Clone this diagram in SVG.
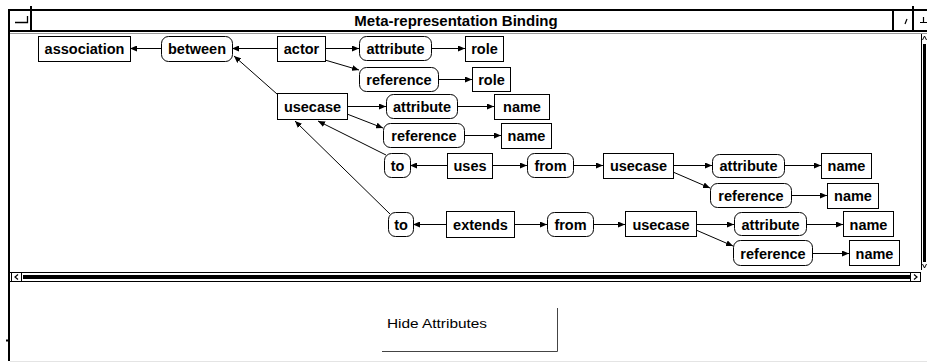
<svg xmlns="http://www.w3.org/2000/svg" width="927" height="363" viewBox="0 0 927 363">
  <style>
    .box { fill: #fff; stroke: #000; stroke-width: 1; }
    .lbl { font-family: "Liberation Sans", Arial, sans-serif; font-weight: bold; font-size: 14.5px; text-anchor: middle; fill: #000; }
    .title { font-family: "Liberation Sans", Arial, sans-serif; font-weight: bold; font-size: 15px; text-anchor: middle; fill: #000; }
    .btn { font-family: "Liberation Sans", Arial, sans-serif; font-size: 13px; fill: #000; }
    .edge { fill: none; stroke: #000; stroke-width: 1; marker-end: url(#arr); }
    .frame { fill: none; stroke: #000; }
  </style>
  <defs>
    <marker id="arr" markerUnits="userSpaceOnUse" markerWidth="8" markerHeight="6" refX="7" refY="3" orient="auto">
      <path d="M0,0 L7,3 L0,6 z" fill="#000"/>
    </marker>
  </defs>

  <rect width="927" height="363" fill="#fff"/>

  <!-- window frame and title bar -->
  <g id="window">
    <line class="frame" x1="8" y1="10" x2="927" y2="10" stroke-width="2"/>
    <line class="frame" x1="8" y1="31" x2="927" y2="31" stroke-width="2"/>
    <line x1="10" y1="33.5" x2="927" y2="33.5" stroke="#999" stroke-width="1"/>
    <line class="frame" x1="9" y1="9" x2="9" y2="361" stroke-width="2"/>
    <line class="frame" x1="31" y1="6" x2="31" y2="32" stroke-width="2"/>
    <path class="frame" d="M15,22.5 H27.5 V16" stroke-width="1.3"/>
    <line class="frame" x1="893" y1="10" x2="893" y2="32" stroke-width="2"/>
    <line x1="905" y1="24" x2="907" y2="19" stroke="#000" stroke-width="1.2"/>
    <line class="frame" x1="913" y1="6" x2="913" y2="32" stroke-width="2"/>
    <path class="frame" d="M920,22.5 H927 M923.5,17 V22" stroke-width="1.2"/>
    <text class="title" x="456" y="26">Meta-representation Binding</text>
    <!-- vertical scrollbar -->
    <line x1="921.5" y1="34" x2="921.5" y2="270" stroke="#000"/>
    <path d="M922.5,40 L924.5,36 L926.5,40" fill="none" stroke="#000"/>
    <rect x="923" y="44" width="3" height="218" fill="#000"/>
    <path d="M922.5,264 L924.5,268 L926.5,264" fill="none" stroke="#000"/>
    <!-- horizontal scrollbar -->
    <line x1="10" y1="272.5" x2="921" y2="272.5" stroke="#000"/>
    <line x1="10" y1="281.5" x2="921" y2="281.5" stroke="#000"/>
    <rect x="11.5" y="272.5" width="10" height="9" fill="none" stroke="#000"/>
    <path d="M18,274.5 L15,277 L18,279.5" fill="none" stroke="#000" stroke-width="1.2"/>
    <rect x="23" y="275" width="887" height="4" fill="#000"/>
    <rect x="910.5" y="272.5" width="10" height="9" fill="none" stroke="#000"/>
    <path d="M914,274.5 L917,277 L914,279.5" fill="none" stroke="#000" stroke-width="1.2"/>
    <line x1="6" y1="340.5" x2="9" y2="340.5" stroke="#000" stroke-width="2"/>
    <line x1="10" y1="361.5" x2="927" y2="361.5" stroke="#e4e4e4"/>
  </g>

  <!-- button -->
  <g id="hide-attributes">
    <path d="M382,351.5 H557.5 V308" fill="none" stroke="#444"/>
    <text class="btn" x="387" y="328" textLength="100" lengthAdjust="spacingAndGlyphs">Hide Attributes</text>
  </g>

  <!-- connectors -->
  <g id="connectors">
    <path class="edge" d="M277,48.5 L232,48.5"/>
    <path class="edge" d="M161,48.5 L130,48.5"/>
    <path class="edge" d="M277,94 L234,56"/>
    <path class="edge" d="M325,48.5 L359,48.5"/>
    <path class="edge" d="M431,48.5 L465,48.5"/>
    <path class="edge" d="M325,60 L359,70"/>
    <path class="edge" d="M438,79.5 L472,79.5"/>
    <path class="edge" d="M347,106.5 L386,106.5"/>
    <path class="edge" d="M457,106.5 L494,106.5"/>
    <path class="edge" d="M347,114 L383,128"/>
    <path class="edge" d="M464,135.5 L501,135.5"/>
    <path class="edge" d="M386,155 L318,121"/>
    <path class="edge" d="M390,214 L295,121"/>
    <path class="edge" d="M447,165.5 L410,165.5"/>
    <path class="edge" d="M492,165.5 L527,165.5"/>
    <path class="edge" d="M573,165.5 L603,165.5"/>
    <path class="edge" d="M673,165.5 L712,165.5"/>
    <path class="edge" d="M784,165.5 L821,165.5"/>
    <path class="edge" d="M673,172 L710,188"/>
    <path class="edge" d="M791,195.5 L827,195.5"/>
    <path class="edge" d="M446,224.5 L413,224.5"/>
    <path class="edge" d="M514,224.5 L547,224.5"/>
    <path class="edge" d="M593,224.5 L625,224.5"/>
    <path class="edge" d="M696,224.5 L734,224.5"/>
    <path class="edge" d="M806,224.5 L843,224.5"/>
    <path class="edge" d="M696,230 L733,246"/>
    <path class="edge" d="M812,253.5 L849,253.5"/>
  </g>

  <!-- nodes -->
  <g id="n-association"><rect class="box" x="38.5" y="36.5" width="92" height="25"/><text class="lbl" x="84.5" y="54">association</text></g>
  <g id="n-between"><rect class="box" x="161.5" y="36.5" width="71" height="25" rx="7"/><text class="lbl" x="197" y="54">between</text></g>
  <g id="n-actor"><rect class="box" x="277.5" y="36.5" width="48" height="25"/><text class="lbl" x="301.5" y="54">actor</text></g>
  <g id="n-actor-attribute"><rect class="box" x="359.5" y="36.5" width="72" height="24" rx="7"/><text class="lbl" x="395.5" y="54">attribute</text></g>
  <g id="n-actor-attribute-role"><rect class="box" x="465.5" y="36.5" width="38" height="25"/><text class="lbl" x="484.5" y="54">role</text></g>
  <g id="n-actor-reference"><rect class="box" x="359.5" y="67.5" width="79" height="24" rx="7"/><text class="lbl" x="399" y="85">reference</text></g>
  <g id="n-actor-reference-role"><rect class="box" x="472.5" y="67.5" width="38" height="24"/><text class="lbl" x="491.5" y="85">role</text></g>
  <g id="n-usecase"><rect class="box" x="277.5" y="93.5" width="70" height="26"/><text class="lbl" x="312.5" y="112">usecase</text></g>
  <g id="n-usecase-attribute"><rect class="box" x="386.5" y="94.5" width="71" height="24" rx="7"/><text class="lbl" x="422" y="112">attribute</text></g>
  <g id="n-usecase-attribute-name"><rect class="box" x="494.5" y="94.5" width="55" height="25"/><text class="lbl" x="522" y="112">name</text></g>
  <g id="n-usecase-reference"><rect class="box" x="383.5" y="123.5" width="81" height="24" rx="7"/><text class="lbl" x="424" y="141">reference</text></g>
  <g id="n-usecase-reference-name"><rect class="box" x="501.5" y="123.5" width="50" height="25"/><text class="lbl" x="526.5" y="141">name</text></g>
  <g id="n-uses-to"><rect class="box" x="384.5" y="153.5" width="26" height="24" rx="7"/><text class="lbl" x="397.5" y="171">to</text></g>
  <g id="n-uses"><rect class="box" x="447.5" y="153.5" width="45" height="25"/><text class="lbl" x="470" y="171">uses</text></g>
  <g id="n-uses-from"><rect class="box" x="527.5" y="153.5" width="46" height="24" rx="7"/><text class="lbl" x="550.5" y="171">from</text></g>
  <g id="n-uses-usecase"><rect class="box" x="603.5" y="153.5" width="70" height="25"/><text class="lbl" x="638.5" y="171">usecase</text></g>
  <g id="n-uses-attribute"><rect class="box" x="712.5" y="154.5" width="72" height="23" rx="7"/><text class="lbl" x="748.5" y="171">attribute</text></g>
  <g id="n-uses-attribute-name"><rect class="box" x="821.5" y="153.5" width="50" height="25"/><text class="lbl" x="846.5" y="171">name</text></g>
  <g id="n-uses-reference"><rect class="box" x="710.5" y="183.5" width="81" height="24" rx="7"/><text class="lbl" x="751" y="201">reference</text></g>
  <g id="n-uses-reference-name"><rect class="box" x="827.5" y="183.5" width="51" height="25"/><text class="lbl" x="853" y="201">name</text></g>
  <g id="n-extends-to"><rect class="box" x="388.5" y="212.5" width="25" height="24" rx="7"/><text class="lbl" x="401" y="230">to</text></g>
  <g id="n-extends"><rect class="box" x="446.5" y="211.5" width="68" height="26"/><text class="lbl" x="480.5" y="230">extends</text></g>
  <g id="n-extends-from"><rect class="box" x="547.5" y="212.5" width="46" height="24" rx="7"/><text class="lbl" x="570.5" y="230">from</text></g>
  <g id="n-extends-usecase"><rect class="box" x="625.5" y="211.5" width="71" height="25"/><text class="lbl" x="661" y="230">usecase</text></g>
  <g id="n-extends-attribute"><rect class="box" x="734.5" y="212.5" width="72" height="23" rx="7"/><text class="lbl" x="770.5" y="230">attribute</text></g>
  <g id="n-extends-attribute-name"><rect class="box" x="843.5" y="211.5" width="50" height="25"/><text class="lbl" x="868.5" y="230">name</text></g>
  <g id="n-extends-reference"><rect class="box" x="733.5" y="240.5" width="79" height="25" rx="7"/><text class="lbl" x="773" y="259">reference</text></g>
  <g id="n-extends-reference-name"><rect class="box" x="849.5" y="240.5" width="50" height="25"/><text class="lbl" x="874.5" y="259">name</text></g>
</svg>
